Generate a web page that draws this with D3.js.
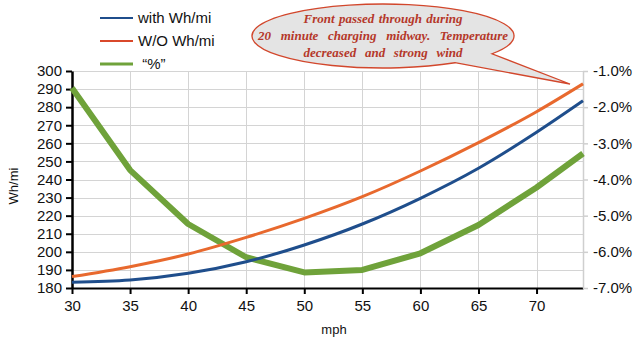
<!DOCTYPE html>
<html>
<head>
<meta charset="utf-8">
<script src="https://cdn.jsdelivr.net/npm/d3@7/dist/d3.min.js"></script>
<style>
  html, body { margin: 0; padding: 0; background: #fff; }
  svg { display: block; font-family: "Liberation Sans", Arial, sans-serif; }
</style>
</head>
<body>
<svg id="chart" width="640" height="344"></svg>
<script>
// Energy use per mile at different speeds, with and without the front
const speeds = [30, 35, 40, 45, 50, 55, 60, 65, 70, 74];
const withWh = [183.2, 184.4, 188.1, 194.5, 203.8, 215.4, 229.6, 246.2, 266.1, 283.5];
const withoutWh = [186.3, 191.8, 198.8, 208.0, 218.5, 230.5, 244.7, 260.4, 277.5, 292.9];
const pctDiff = [-1.47, -3.74, -5.23, -6.15, -6.57, -6.50, -6.04, -5.26, -4.22, -3.28];

const xTicks = [30, 35, 40, 45, 50, 55, 60, 65, 70];
const leftTicks = [180, 190, 200, 210, 220, 230, 240, 250, 260, 270, 280, 290, 300];
const rightTicks = [-1, -2, -3, -4, -5, -6, -7];

const seriesNames = ["with Wh/mi", "W/O Wh/mi", " \u201C%\u201D"];
const noteLines = ["Front passed through during", "20 minute charging midway. Temperature", "decreased and strong wind"];

const svg = d3.select("#chart");
const L = 72, R = 583, T = 71, B = 288;

const x = d3.scaleLinear().domain([30, 74]).range([L, R]);
const yL = d3.scaleLinear().domain([180, 300]).range([B, T]);
const yR = d3.scaleLinear().domain([-7, -1]).range([B, T]);

// grid
const grid = svg.append("g").attr("stroke", "#d4d4d4").attr("stroke-width", 1);
leftTicks.forEach(v => grid.append("line")
  .attr("x1", L).attr("x2", R).attr("y1", Math.round(yL(v)) + 0.5).attr("y2", Math.round(yL(v)) + 0.5));
xTicks.concat([74]).forEach(v => grid.append("line")
  .attr("x1", Math.round(x(v)) + 0.5).attr("x2", Math.round(x(v)) + 0.5).attr("y1", T).attr("y2", B));

// axes
const font = g => g.selectAll("text").attr("font-size", 15).attr("fill", "#111")
  .attr("font-family", "'Liberation Sans', Arial, sans-serif");

const gx = svg.append("g").attr("transform", `translate(0,${B})`)
  .call(d3.axisBottom(x).tickValues(xTicks).tickSize(6).tickSizeOuter(0).tickPadding(5));
gx.select(".domain").attr("stroke", "#000").attr("stroke-width", 2);
gx.selectAll(".tick line").attr("stroke", "#000").attr("stroke-width", 2);
gx.call(font);
gx.selectAll("text").attr("dy", null).attr("y", 23);

const gl = svg.append("g").attr("transform", `translate(${L},0)`)
  .call(d3.axisLeft(yL).tickValues(leftTicks).tickSize(6).tickSizeOuter(0).tickPadding(4));
gl.select(".domain").attr("stroke", "#000").attr("stroke-width", 2.5);
gl.selectAll(".tick line").attr("stroke", "#000").attr("stroke-width", 2);
gl.call(font);

const gr = svg.append("g").attr("transform", `translate(${R},0)`)
  .call(d3.axisRight(yR).tickValues(rightTicks).tickSize(5).tickSizeOuter(0).tickPadding(5)
    .tickFormat(d => d.toFixed(1) + "%"));
gr.select(".domain").attr("stroke", "#cfcfcf").attr("stroke-width", 1.5);
gr.selectAll(".tick line").attr("stroke", "#cfcfcf").attr("stroke-width", 1.5);
gr.call(font);

// axis titles
svg.append("text").attr("transform", "translate(18,186) rotate(-90)")
  .attr("text-anchor", "middle").attr("font-size", 13).attr("fill", "#111").text("Wh/mi");
svg.append("text").attr("x", 334).attr("y", 334)
  .attr("text-anchor", "middle").attr("font-size", 13).attr("fill", "#111").text("mph");

// series lines
const idx = d3.range(speeds.length);
const lineL = vals => d3.line().x(i => x(speeds[i])).y(i => yL(vals[i])).curve(d3.curveMonotoneX)(idx);
const lineR = d3.line().x(i => x(speeds[i])).y(i => yR(pctDiff[i]))(idx);

svg.append("path").attr("d", lineR).attr("fill", "none")
  .attr("stroke", "#6fa23a").attr("stroke-width", 6).attr("stroke-linejoin", "round");
svg.append("path").attr("d", lineL(withoutWh)).attr("fill", "none")
  .attr("stroke", "#e8692e").attr("stroke-width", 3);
svg.append("path").attr("d", lineL(withWh)).attr("fill", "none")
  .attr("stroke", "#1f4e8c").attr("stroke-width", 3);

// legend
const legColors = ["#1f4e8c", "#d9482b", "#6fa23a"];
seriesNames.forEach((name, i) => {
  const yy = 18 + i * 23;
  svg.append("line").attr("x1", 100).attr("x2", 133).attr("y1", yy).attr("y2", yy)
    .attr("stroke", legColors[i]).attr("stroke-width", i === 2 ? 2.8 : 2.2);
  svg.append("text").attr("x", 138).attr("y", yy + 5).attr("font-size", 15)
    .attr("fill", "#111").style("white-space", "pre").text(name);
});

// callout balloon
const cx = 383, cy = 36, rx = 131, ry = 32;
const a1 = Math.acos((492 - cx) / rx), a2 = Math.acos((455 - cx) / rx);
const p1 = [cx + rx * Math.cos(a1), cy + ry * Math.sin(a1)];
const p2 = [cx + rx * Math.cos(a2), cy + ry * Math.sin(a2)];
const tip = [570, 84];
svg.append("path")
  .attr("d", `M${p1} A${rx} ${ry} 0 1 0 ${p2} L${tip} Z`)
  .attr("fill", "#e4e4e4").attr("stroke", "#d2472c").attr("stroke-width", 1.3)
  .attr("stroke-linejoin", "miter");

// note text, words spread to fill each line's width
const noteWidths = [159, 250, 159];
const noteBase = [23, 40, 57];
noteLines.forEach((t, i) => {
  const txt = svg.append("text").attr("x", cx).attr("y", noteBase[i])
    .attr("text-anchor", "middle")
    .attr("font-family", "'Liberation Serif', 'Times New Roman', serif")
    .attr("font-style", "italic").attr("font-weight", "bold")
    .attr("font-size", 13).attr("fill", "#b5382a").text(t);
  const w = txt.node().getComputedTextLength();
  const gaps = t.split(" ").length - 1;
  if (gaps > 0 && noteWidths[i] > w) txt.style("word-spacing", ((noteWidths[i] - w) / gaps) + "px");
});
</script>
</body>
</html>
